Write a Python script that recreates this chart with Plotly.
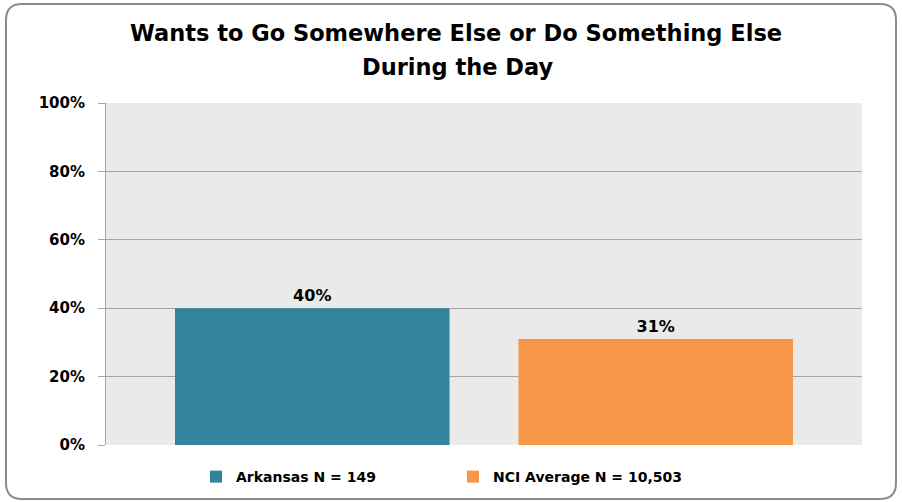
import plotly.graph_objects as go

title_line1 = "Wants to Go Somewhere Else or Do Something Else"
title_line2 = "During the Day"
series_names = ["Arkansas N = 149", "NCI Average N = 10,503"]
series_values = [40, 31]
series_colors = ["#31849B", "#F79646"]
category = [""]
tick_vals = [0, 20, 40, 60, 80, 100]
tick_text = ["0%", "20%", "40%", "60%", "80%", "100%"]

FONT = "DejaVu Sans"
W, H = 902, 502
L, R, T, B = 106, 40, 103, 57
pw, ph = W - L - R, H - T - B

fig = go.Figure()
for name, val, col in zip(series_names, series_values, series_colors):
    fig.add_trace(go.Bar(
        x=category, y=[val], name=name,
        marker=dict(color=col, line=dict(width=0)),
        text=[f"{val}%"], textposition="outside",
        textfont=dict(family=FONT, size=16, color="#000000", weight="bold"),
        cliponaxis=False,
    ))

# rounded border in paper coords
def px_x(p):
    return (p - L) / pw

def px_y(p):
    return (H - B - p) / ph

x0, x1, y0, y1, r = 6, 896, 4, 499, 16
path = (
    f"M {px_x(x0 + r)} {px_y(y0)} L {px_x(x1 - r)} {px_y(y0)} "
    f"Q {px_x(x1)} {px_y(y0)} {px_x(x1)} {px_y(y0 + r)} "
    f"L {px_x(x1)} {px_y(y1 - r)} "
    f"Q {px_x(x1)} {px_y(y1)} {px_x(x1 - r)} {px_y(y1)} "
    f"L {px_x(x0 + r)} {px_y(y1)} "
    f"Q {px_x(x0)} {px_y(y1)} {px_x(x0)} {px_y(y1 - r)} "
    f"L {px_x(x0)} {px_y(y0 + r)} "
    f"Q {px_x(x0)} {px_y(y0)} {px_x(x0 + r)} {px_y(y0)} Z"
)
fig.add_shape(type="path", path=path, xref="paper", yref="paper",
              line=dict(color="#8C8C8C", width=2), layer="below")

fig.update_layout(
    width=W, height=H,
    margin=dict(l=L, r=R, t=T, b=B, autoexpand=False),
    paper_bgcolor="white",
    plot_bgcolor="#EAEAEA",
    font=dict(family=FONT, color="#000000"),
    title=dict(text=f"<b>{title_line1}</b>", x=456 / W, xanchor="center",
               y=1 - 33 / H, yanchor="middle", yref="container",
               font=dict(family=FONT, size=22.5, color="#000000")),
    barmode="group",
    bargap=0.0913,
    bargroupgap=0.2009,
    showlegend=True,
    legend=dict(orientation="h", x=(196 - L) / pw, xanchor="left",
                y=(H - B - 477) / ph, yanchor="middle",
                font=dict(family=FONT, size=14, color="#000000", weight="bold"),
                entrywidth=212, entrywidthmode="pixels",
                itemsizing="constant", traceorder="normal"),
    xaxis=dict(showticklabels=False, showgrid=False, zeroline=False,
               showline=False, ticks=""),
    yaxis=dict(range=[0, 100], tickvals=tick_vals, ticktext=tick_text,
               showgrid=True, gridcolor="#A6A6A6", gridwidth=1,
               zeroline=False, showline=True, linecolor="#A6A6A6", linewidth=1,
               ticks="outside", ticklen=7, tickcolor="#A6A6A6",
               tickfont=dict(family=FONT, size=15, color="#000000", weight="bold"),
               ticklabelstandoff=10),
)
fig.add_annotation(text=f"<b>{title_line2}</b>", xref="paper", yref="paper",
                   x=px_x(457), y=px_y(67), xanchor="center", yanchor="middle",
                   showarrow=False,
                   font=dict(family=FONT, size=22.5, color="#000000"))

fig.write_html("out.html", config={"displayModeBar": False},
               post_script="document.body.style.margin='0';")
